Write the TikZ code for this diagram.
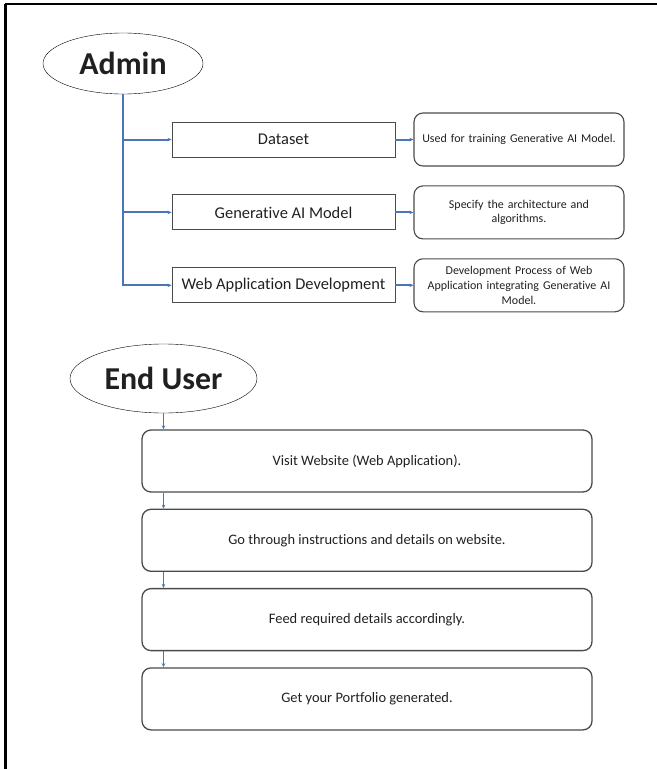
\documentclass[tikz,border=0pt]{standalone}
\usepackage{fontspec}
\setmainfont{Carlito}[Ligatures=NoCommon]
\usepackage{xcolor}
\usepackage{tikz}
\usetikzlibrary{positioning,arrows.meta,shapes.geometric}

\definecolor{linkblue}{HTML}{4A76B8}
\definecolor{edgegray}{HTML}{4A4A4A}
\definecolor{inkgray}{HTML}{202020}

\begin{document}
\begin{tikzpicture}[x=1bp, y=-1bp, text=inkgray,
  actor/.style={draw=black, ellipse, inner sep=0pt, font=\bfseries},
  box/.style={draw=edgegray, line width=0.9bp, align=center, minimum width=223bp, minimum height=35bp, inner sep=0pt, font=\fontsize{16.5}{18}\selectfont},
  note/.style={draw=edgegray, line width=1.1bp, rounded corners=9bp, align=center, text width=200bp, minimum width=210bp, minimum height=53bp, inner sep=0pt, font=\fontsize{12}{15}\selectfont},
  stepbox/.style={draw=edgegray, line width=1.3bp, rounded corners=9bp, align=center, minimum width=450bp, minimum height=62bp, inner sep=0pt, font=\fontsize{14.5}{16}\selectfont},
  tree/.style={draw=linkblue, line width=2bp, -{Stealth[length=4bp,width=3.5bp]}},
  flow/.style={draw=linkblue, line width=1.3bp, -{Stealth[length=4bp,width=3.5bp]}}]
\useasboundingbox (0,0) rectangle (657,769);
% page frame (top and left edge only)
\draw[line width=2.2bp] (5,4) -- (657,4);
\draw[line width=2.2bp] (5.5,4) -- (5.5,769);

% admin part
\node[actor, minimum width=160bp, minimum height=61bp, font=\bfseries\fontsize{32}{34}\selectfont] (admin) at (123,63.5) {Admin};
\node[box] (data) at (283.5,139.5) {Dataset};
\node[box, below=37bp of data] (genai) {Generative AI Model};
\node[box, below=37bp of genai] (webdev) {Web Application Development};
\node[note, right=18bp of data] (datanote) {Used for training Generative AI Model.};
\node[note, right=18bp of genai] (genainote) {Specify the architecture and\\algorithms.};
\node[note, right=18bp of webdev] (webdevnote) {Development Process of Web\\Application integrating Generative AI\\Model.};
\draw[tree] (admin.south) |- (data.west);
\draw[tree] (admin.south) |- (genai.west);
\draw[tree] (admin.south) |- (webdev.west);
\draw[tree] (data) -- (datanote);
\draw[tree] (genai) -- (genainote);
\draw[tree] (webdev) -- (webdevnote);

% end user part
\node[actor, minimum width=187bp, minimum height=69bp, font=\bfseries\fontsize{32}{34}\selectfont] (user) at (163.5,378.5) {End User};
\node[stepbox] (visit) at (367,461) {Visit Website (Web Application).};
\node[stepbox, below=16bp of visit] (browse) {Go through instructions and details on website.};
\node[stepbox, below=16bp of browse] (feed) {Feed required details accordingly.};
\node[stepbox, below=16bp of feed] (result) {Get your Portfolio generated.};
\draw[flow] (user.south) -- (visit.north -| user.south);
\draw[flow] (visit.south -| user.south) -- (browse.north -| user.south);
\draw[flow] (browse.south -| user.south) -- (feed.north -| user.south);
\draw[flow] (feed.south -| user.south) -- (result.north -| user.south);
\end{tikzpicture}
\end{document}
